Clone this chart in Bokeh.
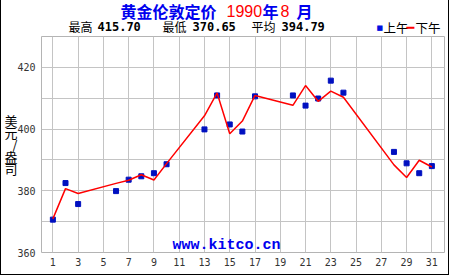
from bokeh.plotting import figure
from bokeh.models import Label, FixedTicker, Range1d, Spacer
from bokeh.layouts import column, row
from bokeh.embed import file_html
from bokeh.resources import INLINE

# London gold fix, August 1990 (USD / oz)
am_days = [1, 2, 3, 6, 7, 8, 9, 10, 13, 14, 15, 16, 17, 20, 21, 22, 23, 24, 28, 29, 30, 31]
am_vals = [370.65, 382.5, 375.7, 379.9, 383.6, 384.7, 385.7, 388.6, 399.9, 410.9, 401.5,
           399.2, 410.6, 410.9, 407.6, 409.9, 415.70, 411.8, 392.6, 388.9, 385.7, 388.0]
pm_days = [1, 2, 3, 6, 7, 8, 9, 10, 13, 14, 15, 16, 17, 20, 21, 22, 23, 24, 28, 29, 30, 31]
pm_vals = [370.9, 380.7, 379.1, 382.4, 383.4, 385.2, 383.5, 388.8, 404.3, 411.7, 398.5,
           402.6, 410.9, 407.7, 414.1, 409.0, 412.3, 410.3, 388.4, 384.3, 389.9, 387.7]

x_ticks = list(range(1, 32, 2))
y_ticks = [360, 380, 400, 420]
y_grid = [360, 370, 380, 390, 400, 410, 420, 430]

title_parts = ["黄金伦敦定价", "1990", "年", "8", "月"]
stat_names = ["最高", "最低", "平均"]
stat_values = ["415.70", "370.65", "394.79"]
legend_names = ["上午", "下午"]
y_label = "美\n元\n/\n盎\n司"
watermark = "www.kitco.cn"

W = 447          # inner width (page x 1..447), black rules at x=0 and x=448
HEAD_H = 36
MAIN_H = 238
FL, FR, FB = 40, 444, 252   # frame left/right/bottom in page pixels

# ---------- header (title, stats, legend); its frame is aligned with the chart frame ----------
h = figure(width=W, height=HEAD_H, x_range=Range1d(0, 1), y_range=Range1d(0, 1),
           output_backend="svg", toolbar_location=None, x_axis_type=None, y_axis_type=None,
           min_border=0, min_border_left=FL - 1, min_border_right=(W + 1) - FR,
           min_border_top=0, min_border_bottom=0)
h.outline_line_color = None
h.grid.visible = False
h.background_fill_color = "white"
h.border_fill_color = "white"


def hlab(text, X, Y, size, color, bold=False, font="Noto Sans CJK SC", align="left"):
    h.add_layout(Label(x=X - FL, y=HEAD_H - Y, x_units="screen", y_units="screen", text=text,
                       text_font_size=f"{size}px", text_color=color,
                       text_font_style="bold" if bold else "normal", text_font=font,
                       text_align=align, text_baseline="middle"))


blue, red = "#0000ee", "#ff0000"
hlab(title_parts[0], 119, 10, 16, blue, bold=True)
hlab(title_parts[1], 225, 10, 16, red, font="Liberation Sans")
hlab(title_parts[2], 261, 10, 16, blue, bold=True)
hlab(title_parts[3], 279, 10, 16, red, font="Liberation Sans")
hlab(title_parts[4], 295, 10, 16, blue, bold=True)

for name, val, xn, xv in zip(stat_names, stat_values, [67, 161, 250], [96, 191, 280]):
    hlab(name, xn, 26, 12, "black")
    hlab(val, xv, 26, 12, "black", bold=True, font="DejaVu Sans Mono")

hlab("■", 375, 27, 7, "#0010e0", font="DejaVu Sans")
hlab(legend_names[0], 382, 27, 12.5, "black")
hlab("━", 405, 27, 13, "#ff0000", font="DejaVu Sans")
hlab(legend_names[1], 414, 27, 12.5, "black")

# ---------- main chart ----------
p = figure(width=W, height=MAIN_H, x_range=Range1d(0.1, 32), y_range=Range1d(360, 430),
           output_backend="svg", toolbar_location=None,
           min_border_left=FL - 1, min_border_right=(W + 1) - FR,
           min_border_top=0, min_border_bottom=(HEAD_H + MAIN_H) - FB)
p.background_fill_color = "white"
p.border_fill_color = "white"
p.outline_line_color = "#b4b4b4"
p.outline_line_width = 1

p.xaxis.ticker = FixedTicker(ticks=x_ticks)
p.xgrid.ticker = FixedTicker(ticks=x_ticks)
p.yaxis.ticker = FixedTicker(ticks=y_ticks)
p.ygrid.ticker = FixedTicker(ticks=y_grid)
for g in (p.xgrid, p.ygrid):
    g.grid_line_color = "#c4c4c4"
    g.grid_line_width = 1
for ax in (p.xaxis, p.yaxis):
    ax.axis_line_color = None
    ax.major_tick_line_color = None
    ax.minor_tick_line_color = None
    ax.major_tick_out = 0
    ax.major_tick_in = 0
    ax.minor_tick_out = 0
    ax.minor_tick_in = 0
    ax.major_label_text_font = "DejaVu Sans Mono"
    ax.major_label_text_font_size = "10px"
    ax.major_label_text_color = "#333333"
p.xaxis.major_label_standoff = 5
p.yaxis.major_label_standoff = 6

p.yaxis.axis_label = y_label
p.yaxis.axis_label_orientation = "horizontal"
p.yaxis.axis_label_text_font = "Noto Sans CJK SC"
p.yaxis.axis_label_text_font_style = "normal"
p.yaxis.axis_label_text_font_size = "13px"
p.yaxis.axis_label_text_color = "black"
p.yaxis.axis_label_text_line_height = 0.62
p.yaxis.axis_label_standoff = -3

p.scatter(am_days, am_vals, marker="square", size=5, color="#0010c0")
p.line(pm_days, pm_vals, color="#ff0000", line_width=1.5)

p.add_layout(Label(x=225 - FL, y=FB - 245, x_units="screen", y_units="screen", text=watermark,
                   text_font_size="15px", text_color="#0000ee", text_font_style="bold",
                   text_font="Liberation Mono", text_align="center", text_baseline="middle"))

black = {"background-color": "black"}
layout = row(
    Spacer(width=1, height=HEAD_H + MAIN_H + 1, styles=black),
    column(h, p, Spacer(width=W, height=1, styles=black)),
    Spacer(width=1, height=HEAD_H + MAIN_H + 1, styles=black),
)

open("out.html", "w").write(file_html(layout, INLINE))
